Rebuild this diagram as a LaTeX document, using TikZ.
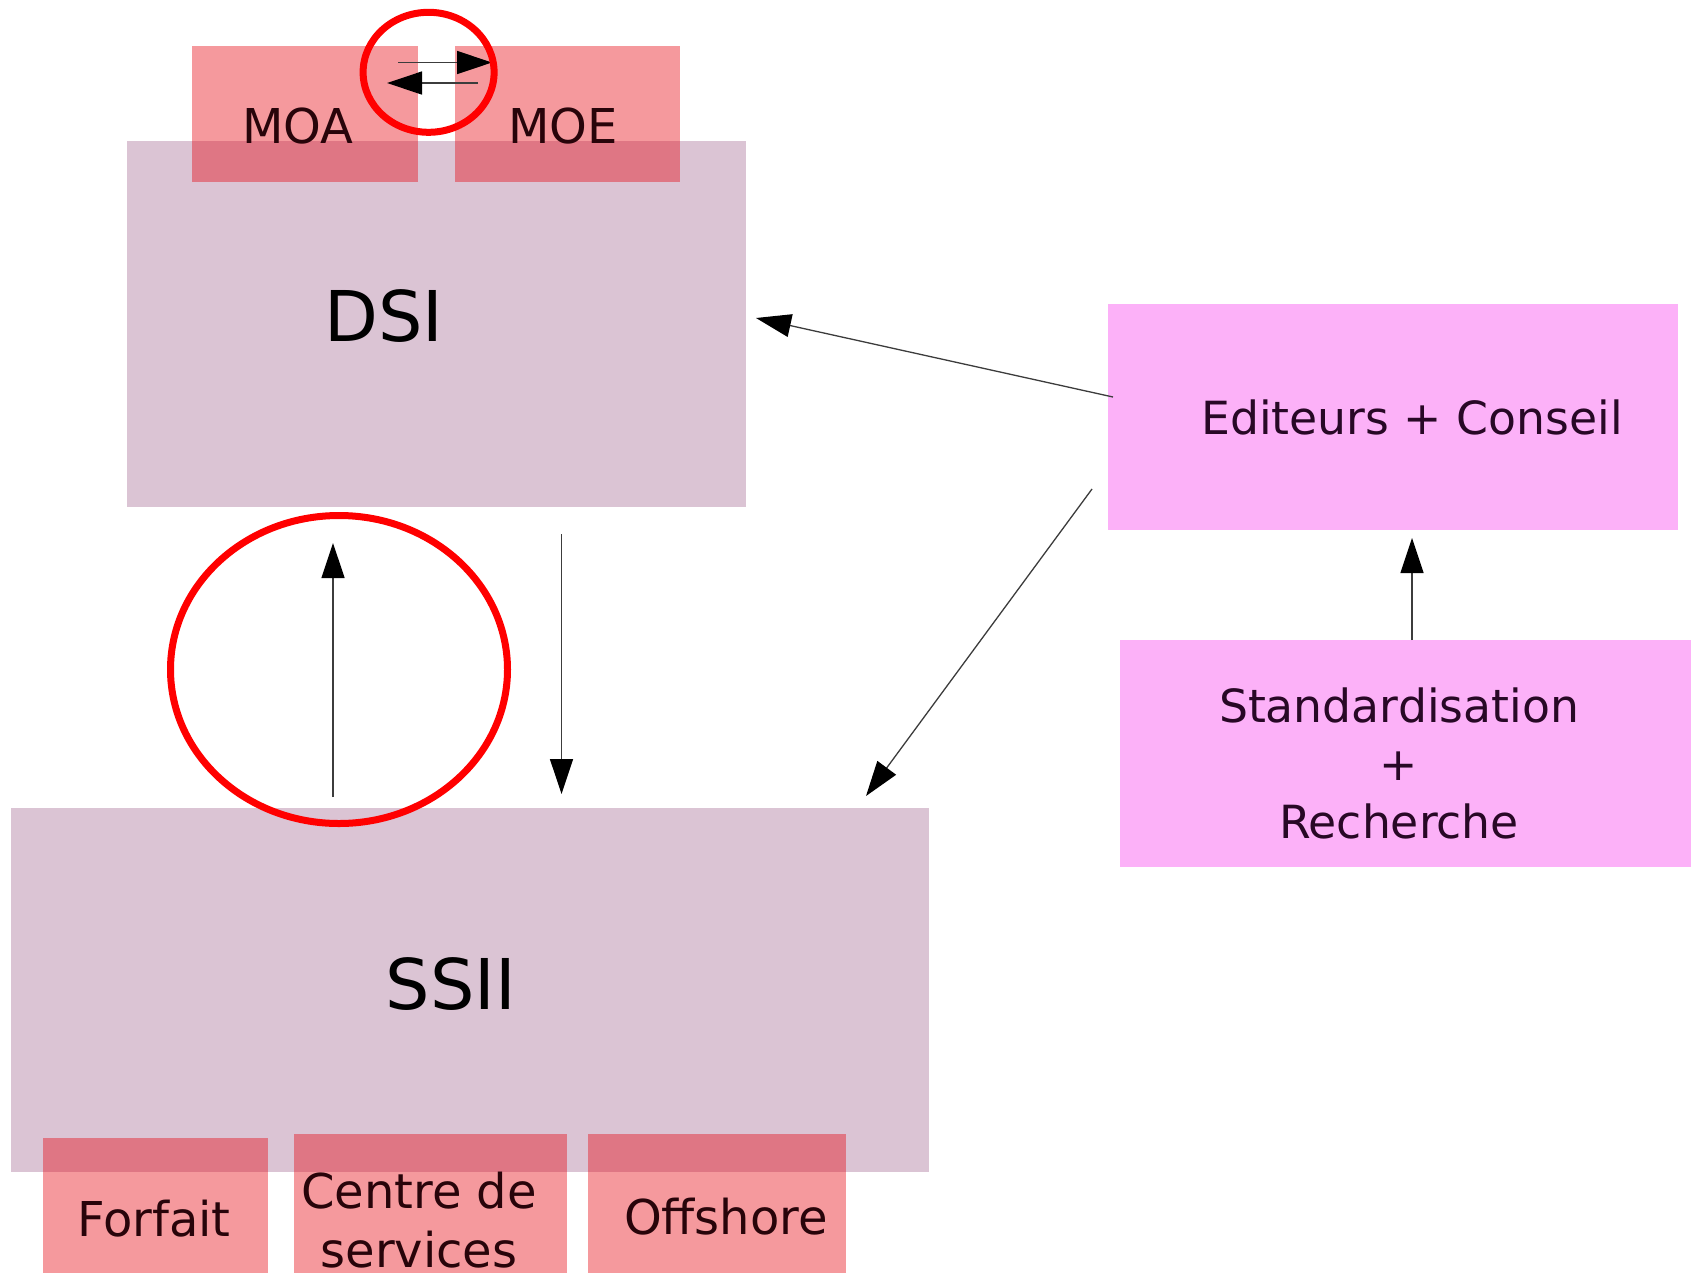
\documentclass[tikz,border=0pt]{standalone}
\usepackage{fontspec}
\setmainfont{DejaVu Sans}
\usetikzlibrary{arrows.meta}

\definecolor{lavender}{RGB}{219,196,212}
\definecolor{pinkbox}{RGB}{252,177,248}
\definecolor{redtint}{RGB}{230,8,18}
\definecolor{circlered}{RGB}{255,0,0}
\definecolor{linegray}{RGB}{60,60,60}
\definecolor{subink}{RGB}{40,4,10}
\definecolor{sideink}{RGB}{40,8,38}

\begin{document}
\begin{tikzpicture}[x=1pt,y=-1pt,
  box/.style={rectangle, inner sep=0pt, outer sep=0pt},
  mainbox/.style={box, fill=lavender},
  subbox/.style={box, fill=redtint, fill opacity=0.41},
  sidebox/.style={box, fill=pinkbox},
  bigtext/.style={font=\fontsize{70}{80}\selectfont, anchor=base, inner sep=0pt},
  subtext/.style={font=\fontsize{48}{59}\selectfont, align=center, inner sep=0pt, text=subink},
  sidetext/.style={font=\fontsize{45.7}{58}\selectfont, align=center, inner sep=0pt, text=sideink},
  flow/.style={draw=linegray, line width=1.3pt, -{Triangle[length=35pt,width=23pt,color=black]}},
  highlight/.style={draw=circlered, line width=7pt}
]
\useasboundingbox (0,0) rectangle (1693,1272);

% main organisations
\node[mainbox, minimum width=619pt, minimum height=366pt] (dsi) at (436.5,324) {};
\node[mainbox, minimum width=918pt, minimum height=364pt] (ssii) at (470,990) {};

% side actors
\node[sidebox, minimum width=570pt, minimum height=226pt] (edit) at (1393,417) {};
\node[sidebox, minimum width=571pt, minimum height=227pt] (std) at (1405.5,753.5) {};

% sub-units (translucent, overlapping their parent box)
\node[subbox, minimum width=226pt, minimum height=136pt] (moa) at (305,114) {};
\node[subbox, minimum width=225pt, minimum height=136pt] (moe) at (567.5,114) {};
\node[subbox, minimum width=225pt, minimum height=152pt] (forfait) at (155.5,1214) {};
\node[subbox, minimum width=273pt, minimum height=156pt] (centre) at (430.5,1212) {};
\node[subbox, minimum width=258pt, minimum height=156pt] (offshore) at (717,1212) {};

% labels
\node[bigtext] (dsi-label) at (384,341) {DSI};
\node[bigtext] (ssii-label) at (451,1009.5) {SSII};
\node[subtext, anchor=base] (moa-label) at (298,143.5) {MOA};
\node[subtext, anchor=base] (moe-label) at (563,143.5) {MOE};
\node[subtext, anchor=base] (forfait-label) at (154,1236) {Forfait};
\node[subtext, anchor=north] (centre-label) at (419,1171.5) {Centre de\\services};
\node[subtext, anchor=base] (offshore-label) at (726,1234) {Offshore};
\node[sidetext, anchor=base] (edit-label) at (1412,434) {Editeurs + Conseil};
\node[sidetext, anchor=north] (std-label) at (1399,687.3) {Standardisation\\+\\Recherche};

% connector end points
\coordinate (moa-out) at (398,62.5);
\coordinate (moe-in) at (492,62.5);
\coordinate (moe-out) at (478,83);
\coordinate (moa-in) at (387,83);
\coordinate (ssii-up) at (333,797);
\coordinate (dsi-in) at (333,543);
\coordinate (dsi-down) at (561.5,534);
\coordinate (ssii-in) at (561.5,794);
\coordinate (edit-left) at (1113,397);
\coordinate (dsi-right) at (756,318);
\coordinate (edit-low) at (1092,489);
\coordinate (ssii-top) at (866,796);
\coordinate (std-up) at (1412,640);
\coordinate (edit-in) at (1412,538);

% connectors
\draw[flow] (moa-out) -- (moe-in);
\draw[flow] (moe-out) -- (moa-in);
\draw[flow] (ssii-up) -- (dsi-in);
\draw[flow] (dsi-down) -- (ssii-in);
\draw[flow] (edit-left) -- (dsi-right);
\draw[flow] (edit-low) -- (ssii-top);
\draw[flow] (std-up) -- (edit-in);

% highlight rings
\draw[highlight] (428.6,72.3) ellipse [x radius=65.5, y radius=60];
\draw[highlight] (339,669.5) ellipse [x radius=168.5, y radius=154];
\end{tikzpicture}
\end{document}
